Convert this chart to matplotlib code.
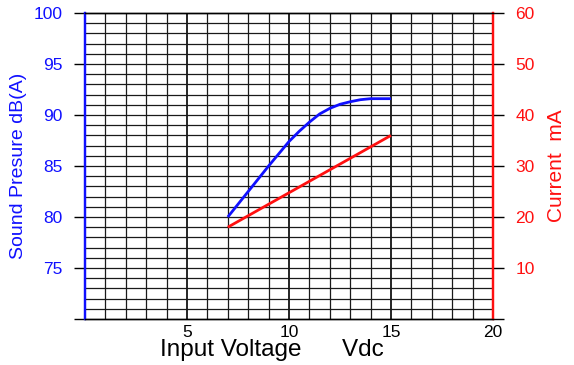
import matplotlib
matplotlib.use("Agg")
import matplotlib.pyplot as plt
import numpy as np

plt.rcParams['font.family'] = ['Liberation Sans', 'DejaVu Sans']

voltage = [7, 8, 9, 10, 10.5, 11, 11.5, 12, 12.5, 13, 13.5, 14, 15]
sound_db = [80.0, 82.5, 85.0, 87.4, 88.4, 89.3, 90.1, 90.65, 91.05, 91.3, 91.5, 91.6, 91.6]
volt_current = [7, 15]
current_ma = [18.0, 36.0]

xticks = [5, 10, 15, 20]
left_ticks = [75, 80, 85, 90, 95, 100]
right_ticks = [10, 20, 30, 40, 50, 60]

fig = plt.figure(figsize=(5.74, 3.65), dpi=100)
ax = fig.add_axes([85/574, 1-319/365, 408/574, 306/365])
ax2 = ax.twinx()

ax.set_xlim(0, 20)
ax.set_ylim(70, 100)
ax2.set_ylim(0, 60)

# grid
for v in range(1, 20):
    ax.axvline(v, color='#1a1a1a' if v % 5 else '#000000', lw=0.9 if v % 5 else 1.2, zorder=0.5)
for d in range(71, 100):
    ax.axhline(d, color='#1a1a1a', lw=0.9, zorder=0.5)

ax.plot(voltage, sound_db, color='#1010ff', lw=2, zorder=3, solid_capstyle='butt', solid_joinstyle='round')
ax2.plot(volt_current, current_ma, color='#ff1010', lw=2, zorder=3, solid_capstyle='butt')

# spines
for a in (ax, ax2):
    a.spines['left'].set_color('#1010ff')
    a.spines['left'].set_linewidth(1.6)
    a.spines['right'].set_color('#ff1010')
    a.spines['right'].set_linewidth(1.6)
    a.spines['top'].set_linewidth(1.0)
    a.spines['bottom'].set_linewidth(1.0)

ax.set_xticks(xticks)
ax.set_xticklabels([str(t) for t in xticks], fontsize=12.5)
ax.tick_params(axis='x', length=0, pad=4)

ax.set_yticks([70] + left_ticks)
ax.set_yticklabels([''] + [str(t) for t in left_ticks], color='#1010ff', fontsize=12.5)
ax.tick_params(axis='y', length=8, width=1.0, color='black', pad=8)

ax2.set_yticks([0] + right_ticks)
ax2.set_yticklabels([''] + [str(t) for t in right_ticks], color='#ff1010', fontsize=12.5)
ax2.tick_params(axis='y', length=8, width=1.0, color='black', pad=8)

ax.set_ylabel('Sound Presure dB(A)', color='#1010ff', fontsize=14, labelpad=5)
ax2.set_ylabel('Current  mA', color='#ff1010', fontsize=15, labelpad=9)
fig.text(272/574, 1-350/365, 'Input Voltage      Vdc', ha='center', va='center', fontsize=17.5)

fig.savefig('out.png', dpi=100)
